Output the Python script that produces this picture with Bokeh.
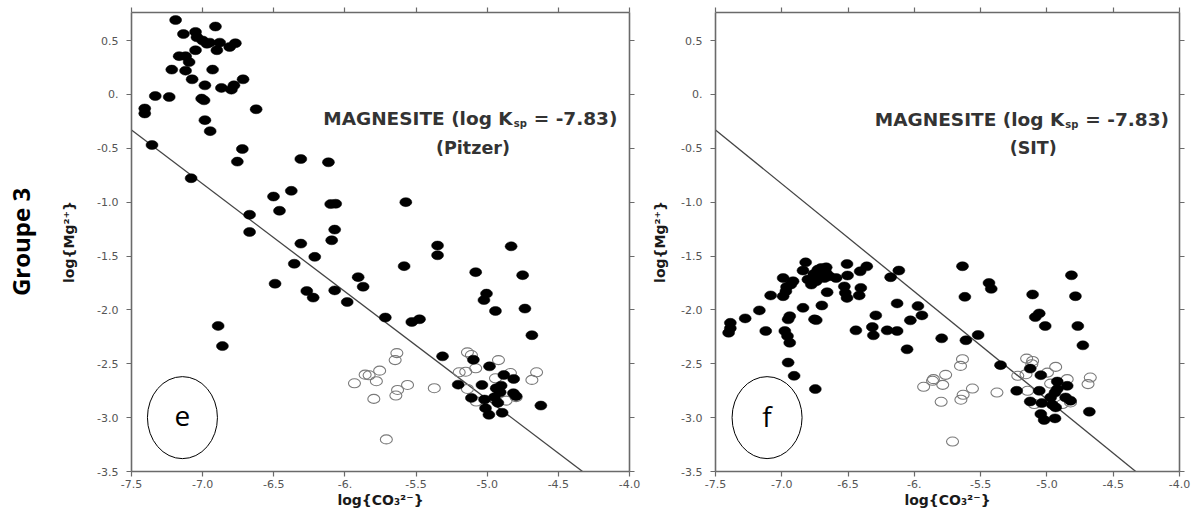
from bokeh.plotting import figure
from bokeh.layouts import row
from bokeh.models import Range1d, LinearAxis, FixedTicker, Label
from bokeh.embed import file_html
from bokeh.resources import INLINE

# ---------------- data ----------------
x_ticks = [-7.5, -7.0, -6.5, -6.0, -5.5, -5.0, -4.5, -4.0]
x_tick_labels = ["-7.5", "-7.0", "-6.5", "-6.", "-5.5", "-5.0", "-4.5", "-4.0"]
y_ticks = [-3.5, -3.0, -2.5, -2.0, -1.5, -1.0, -0.5, 0.0, 0.5]
y_tick_labels = ["-3.5", "-3.0", "-2.5", "-2.0", "-1.5", "-1.0", "-0.5", "0.", "0.5"]

log_ksp = -7.83
x_min, x_max = -7.5, -4.0
y_min, y_max = -3.5, 0.76

pitzer_filled_x = [-7.19, -7.135, -7.05, -6.91, -7.04, -7.00, -6.95, -6.88, -6.90, -6.97,
                   -7.05, -6.81, -6.77, -7.165, -7.12, -7.095, -7.12, -7.217, -6.93, -7.074,
                   -6.984, -6.868, -6.798, -6.78, -6.716, -7.333, -7.235, -7.007, -6.99, -7.407,
                   -7.407, -6.624, -6.984, -6.947, -7.356, -6.721, -6.756, -6.31, -6.116, -7.081,
                   -6.502, -6.377, -6.46, -6.10, -6.065, -6.67, -6.67, -6.072, -6.093, -6.31,
                   -5.572, -6.212, -6.491, -6.356, -6.268, -6.223, -6.072, -5.907, -5.872, -5.984,
                   -5.716, -6.891, -6.861, -5.349, -5.349, -4.832, -5.584, -5.081, -4.751, -5.005,
                   -5.023, -4.942, -4.735, -5.53, -5.476, -4.686, -5.314, -5.097, -4.984, -4.883,
                   -4.814, -5.204, -5.037, -4.937, -4.902, -4.816, -4.797, -5.111, -5.019, -4.949,
                   -4.925, -4.909, -5.012, -4.623, -4.895, -4.988]
pitzer_filled_y = [0.69, 0.56, 0.58, 0.63, 0.53, 0.50, 0.48, 0.48, 0.41, 0.47,
                   0.41, 0.44, 0.475, 0.355, 0.355, 0.30, 0.22, 0.23, 0.23, 0.14,
                   0.084, 0.06, 0.044, 0.084, 0.14, -0.015, -0.024, -0.039, -0.055, -0.131,
                   -0.177, -0.138, -0.239, -0.341, -0.47, -0.507, -0.624, -0.60, -0.63, -0.778,
                   -0.948, -0.895, -1.08, -1.018, -1.015, -1.117, -1.277, -1.255, -1.354, -1.385,
                   -1.0, -1.508, -1.757, -1.572, -1.825, -1.886, -1.819, -1.696, -1.785, -1.927,
                   -2.071, -2.149, -2.336, -1.403, -1.493, -1.41, -1.594, -1.65, -1.678, -1.849,
                   -1.909, -2.01, -1.988, -2.112, -2.087, -2.235, -2.431, -2.463, -2.524, -2.604,
                   -2.641, -2.694, -2.697, -2.727, -2.703, -2.773, -2.801, -2.817, -2.832, -2.81,
                   -2.863, -2.764, -2.912, -2.888, -2.955, -2.974]

pitzer_open_x = [-5.635, -5.647, -5.756, -5.858, -5.83, -5.779, -5.933, -5.63, -5.642, -5.797,
                 -5.709, -5.56, -5.372, -5.139, -5.111, -5.081, -4.921, -5.197, -5.151, -4.942,
                 -4.837, -4.653, -4.686, -5.139, -5.077, -4.867, -4.797]
pitzer_open_y = [-2.401, -2.466, -2.564, -2.601, -2.607, -2.662, -2.681, -2.743, -2.795, -2.826,
                 -3.202, -2.697, -2.727, -2.394, -2.419, -2.542, -2.466, -2.579, -2.574, -2.635,
                 -2.586, -2.579, -2.65, -2.734, -2.851, -2.842, -2.81]

sit_filled_x = [-6.82, -6.84, -6.99, -6.915, -6.932, -6.964, -6.969, -6.99, -7.084, -7.169,
                -7.276, -7.388, -7.388, -7.401, -7.121, -6.977, -6.957, -6.94, -6.94, -6.952,
                -6.84, -6.753, -6.74, -6.698, -6.952, -6.907, -6.747, -6.758, -6.728, -6.703,
                -6.665, -6.665, -6.703, -6.678, -6.641, -6.803, -6.777, -6.74, -6.59, -6.508,
                -6.504, -6.409, -6.359, -6.528, -6.521, -6.508, -6.404, -6.416, -6.658, -6.441,
                -6.291, -6.317, -6.309, -6.205, -6.13, -6.13, -6.03, -6.179, -6.117, -6.055,
                -5.973, -5.943, -5.794, -5.637, -5.437, -5.42, -5.619, -5.108, -4.815, -4.785,
                -5.058, -5.088, -5.013, -4.767, -5.611, -5.519, -4.729, -5.35, -5.126, -5.046,
                -4.922, -4.847, -5.228, -5.058, -5.126, -5.039, -4.972, -4.939, -4.922, -4.959,
                -4.934, -4.859, -4.822, -5.046, -5.021, -4.939, -4.68]
sit_filled_y = [-1.559, -1.635, -1.704, -1.734, -1.765, -1.787, -1.827, -1.873, -1.866, -2.005,
                -2.079, -2.12, -2.171, -2.212, -2.196, -2.196, -2.243, -2.305, -2.058, -2.088,
                -1.981, -2.088, -2.095, -1.959, -2.489, -2.612, -2.735, -1.667, -1.626, -1.611,
                -1.605, -1.657, -1.679, -1.704, -1.688, -1.718, -1.765, -1.734, -1.704, -1.574,
                -1.681, -1.642, -1.596, -1.782, -1.842, -1.889, -1.796, -1.866, -1.836, -2.19,
                -2.051, -2.159, -2.236, -2.19, -2.196, -1.94, -2.097, -1.697, -1.635, -2.366,
                -1.965, -2.051, -2.264, -1.595, -1.75, -1.805, -1.879, -1.857, -1.679, -1.873,
                -2.033, -2.067, -2.15, -2.15, -2.282, -2.233, -2.329, -2.513, -2.545, -2.606,
                -2.665, -2.705, -2.751, -2.751, -2.85, -2.865, -2.813, -2.767, -2.735, -2.88,
                -2.905, -2.813, -2.843, -2.966, -3.022, -3.007, -2.945]

sit_open_x = [-5.93, -5.856, -5.863, -5.786, -5.764, -5.798, -5.637, -5.652, -5.562, -5.632,
              -5.649, -5.712, -5.377, -5.153, -5.108, -5.114, -5.22, -5.158, -4.996, -4.934,
              -4.847, -4.972, -4.673, -4.69, -5.146, -5.096, -4.884, -4.822]
sit_open_y = [-2.714, -2.643, -2.658, -2.696, -2.603, -2.853, -2.458, -2.52, -2.73, -2.788,
              -2.834, -3.222, -2.767, -2.452, -2.474, -2.504, -2.612, -2.597, -2.582, -2.529,
              -2.643, -2.684, -2.628, -2.689, -2.751, -2.874, -2.874, -2.859]

AXIS_COLOR = "#6a6a6a"
TICK_LABEL_COLOR = "#555555"


def style_axis(ax, ticks, labels, show_labels=True):
    ax.ticker = FixedTicker(ticks=ticks)
    ax.axis_line_color = AXIS_COLOR
    ax.axis_line_width = 1.6
    ax.major_tick_line_color = AXIS_COLOR
    ax.major_tick_line_width = 1.2
    ax.major_tick_in = 0
    ax.major_tick_out = 5
    ax.minor_tick_line_color = None
    if show_labels:
        ax.major_label_overrides = {t: l for t, l in zip(ticks, labels)}
    else:
        ax.major_label_overrides = {t: "" for t in ticks}
    ax.major_label_text_font = "DejaVu Sans"
    ax.major_label_text_font_size = "11px"
    ax.major_label_text_color = TICK_LABEL_COLOR


def build_panel(width, bl, br, bt, bb, fx, fy, ox, oy, method, letter,
                kx, ky, mx, my, ex, ylab_standoff):
    p = figure(width=width, height=511, output_backend="svg", toolbar_location=None,
               x_range=Range1d(x_min, x_max), y_range=Range1d(y_min, y_max),
               min_border_left=bl, min_border_right=br, min_border_top=bt,
               min_border_bottom=bb)
    p.xgrid.visible = False
    p.ygrid.visible = False
    p.outline_line_color = None
    p.background_fill_color = "white"
    p.border_fill_color = "white"

    xa = p.xaxis[0]
    ya = p.yaxis[0]
    style_axis(xa, x_ticks, x_tick_labels)
    style_axis(ya, y_ticks, y_tick_labels)
    xa.major_label_standoff = 3
    ya.major_label_standoff = 8
    xa.axis_label = "log{CO₃²⁻}"
    ya.axis_label = "log{Mg²⁺}"
    for a in (xa, ya):
        a.axis_label_text_font = "DejaVu Sans"
        a.axis_label_text_font_style = "bold"
        a.axis_label_text_font_size = "14px"
        a.axis_label_text_color = "#1a1a1a"
    xa.axis_label_standoff = 1
    ya.axis_label_standoff = ylab_standoff

    top = LinearAxis()
    style_axis(top, x_ticks, x_tick_labels, show_labels=False)
    top.major_label_text_font_size = "0px"
    top.major_label_standoff = 0
    p.add_layout(top, "above")
    right = LinearAxis()
    style_axis(right, y_ticks, y_tick_labels, show_labels=False)
    right.major_label_text_font_size = "0px"
    right.major_label_standoff = 0
    p.add_layout(right, "right")

    # solubility line: log[Mg] + log[CO3] = log Ksp
    line_x = [x_min, log_ksp - y_min]
    line_y = [log_ksp - x_min, y_min]
    p.line(line_x, line_y, line_color="#444444", line_width=1.3)

    p.ellipse(x=ox, y=oy, width=12, height=9, width_units="screen", height_units="screen",
              fill_color="white", fill_alpha=0.0, line_color="#7a7a7a", line_width=1.1)
    p.ellipse(x=fx, y=fy, width=12, height=9, width_units="screen", height_units="screen",
              fill_color="black", line_color="black", line_width=0.5)

    common = dict(text_font="DejaVu Sans", text_font_style="bold",
                  text_color="#333333", text_baseline="middle")
    p.add_layout(Label(x=kx, y=ky, text="MAGNESITE (log K", text_align="right",
                       text_font_size="18.5px", **common))
    p.add_layout(Label(x=kx, y=ky, text="sp", text_align="left", x_offset=1, y_offset=-5,
                       text_font_size="10px", **common))
    p.add_layout(Label(x=kx, y=ky, text=f"=  {log_ksp})", text_align="left", x_offset=21,
                       text_font_size="18.5px", **common))
    p.add_layout(Label(x=mx, y=my, text=f"({method})", text_align="center",
                       text_font_size="17.5px", **common))

    p.ellipse(x=[ex], y=[-3.0], width=70, height=82, width_units="screen",
              height_units="screen", fill_color=None, line_color="black", line_width=1)
    p.add_layout(Label(x=ex, y=-3.0, text=letter, text_align="center",
                       text_baseline="middle", text_font="Open Sans",
                       text_font_size="28px", text_color="black", y_offset=2))
    return p


p1 = build_panel(649, 128, 20, 12, 38, pitzer_filled_x, pitzer_filled_y,
                 pitzer_open_x, pitzer_open_y, "Pitzer", "e",
                 -4.821, -0.22, -5.10, -0.50, -7.142, 17)

# row label "Groupe 3": carried by an outer, otherwise invisible left axis
group_axis = LinearAxis(ticker=FixedTicker(ticks=[]))
group_axis.axis_line_color = None
group_axis.major_tick_line_color = None
group_axis.minor_tick_line_color = None
group_axis.major_tick_out = 0
group_axis.major_tick_in = 0
group_axis.major_label_text_font_size = "0px"
group_axis.major_label_standoff = 0
group_axis.axis_label = "Groupe 3"
group_axis.axis_label_text_font = "Open Sans"
group_axis.axis_label_text_font_size = "24px"
group_axis.axis_label_text_font_style = "bold"
group_axis.axis_label_text_color = "black"
group_axis.axis_label_standoff = 22
p1.add_layout(group_axis, "left")

p2 = build_panel(543, 62, 13, 10, 40, sit_filled_x, sit_filled_y,
                 sit_open_x, sit_open_y, "SIT", "f",
                 -4.869, -0.235, -5.103, -0.50, -7.111, 10)

layout = row(p1, p2, spacing=0)
open("out.html", "w").write(file_html(layout, INLINE))
